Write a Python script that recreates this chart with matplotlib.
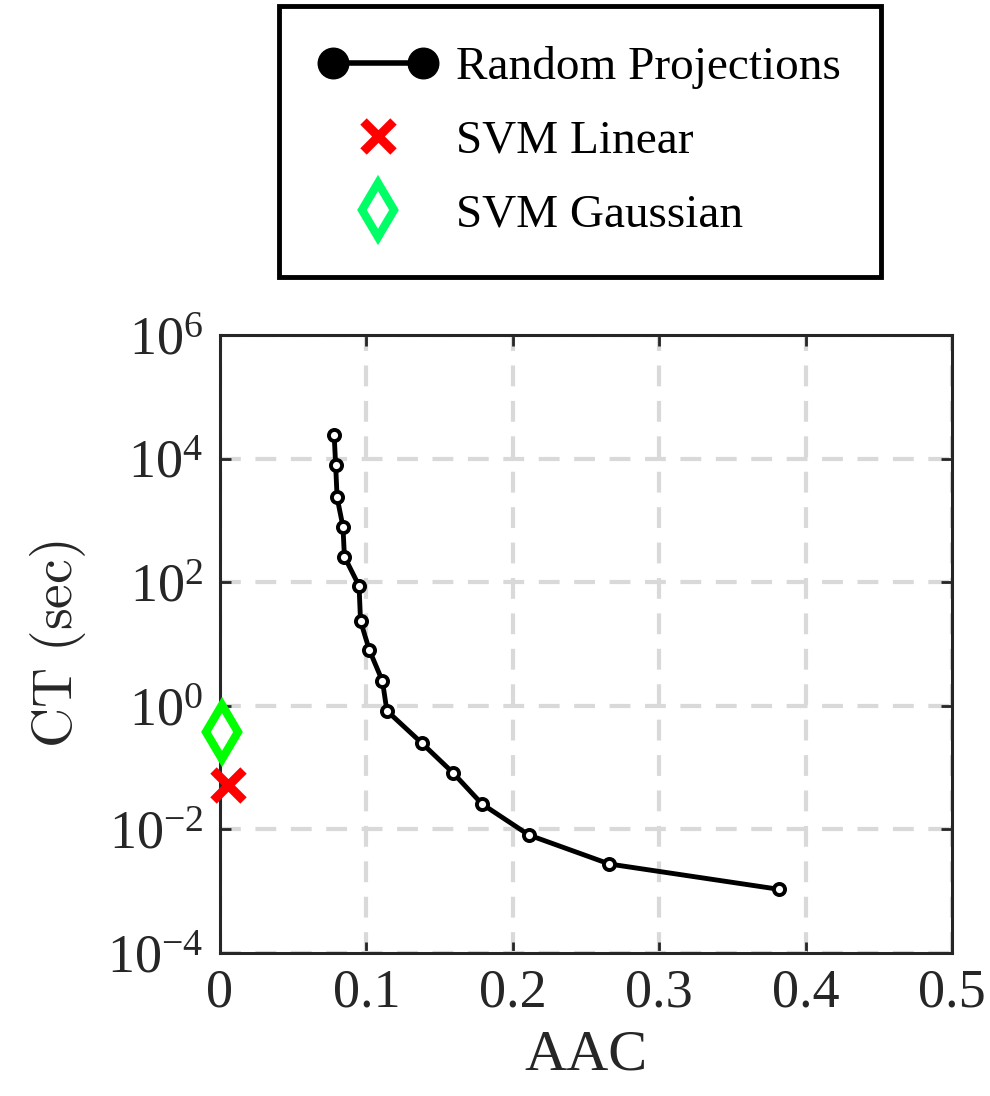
import matplotlib
matplotlib.use('Agg')
from matplotlib import pyplot
from matplotlib.lines import Line2D
from matplotlib.legend_handler import HandlerLine2D

# Random Projections curve (AAC vs CT)
rp_aac = [0.078, 0.079, 0.080, 0.084, 0.085, 0.095, 0.096, 0.102, 0.111, 0.114,
          0.138, 0.159, 0.179, 0.211, 0.266, 0.382]
rp_ct = [2.4e4, 7.9e3, 2.35e3, 790, 258, 87, 23.5, 8.0, 2.5, 0.83,
         0.247, 0.083, 0.0257, 0.0081, 0.00275, 0.00107]

svm_lin_aac = [0.0057]
svm_lin_ct = [0.052]
svm_gauss_aac = [0.0012]
svm_gauss_ct = [0.38]

x_ticks = [0, 0.1, 0.2, 0.3, 0.4, 0.5]
x_labels = ['0', '0.1', '0.2', '0.3', '0.4', '0.5']
y_exps = [-4, -2, 0, 2, 4, 6]

pyplot.rcParams['font.family'] = 'Liberation Serif'
pyplot.rcParams['mathtext.fontset'] = 'cm'

axis_col = '#262626'
fig = pyplot.figure(figsize=(9.9, 10.96), dpi=100)
ax = fig.add_axes([0.2222, 0.1305, 0.7394, 0.5639])

ax.plot(rp_aac, rp_ct, color='black', linewidth=3.5, marker='o', markersize=8,
        markerfacecolor='white', markeredgecolor='black', markeredgewidth=2.8, zorder=5)
ax.plot(svm_lin_aac, svm_lin_ct, linestyle='none', marker='x', markersize=22,
        markeredgewidth=6.5, color='red', zorder=6, clip_on=False)
ax.plot(svm_gauss_aac, svm_gauss_ct, linestyle='none', marker='d', markersize=28,
        markerfacecolor='white', markeredgecolor='#00ff00', markeredgewidth=6, zorder=6,
        clip_on=False)

ax.set_yscale('log')
ax.set_xlim(0, 0.5)
ax.set_ylim(1e-4, 1e6)
ax.set_xticks(x_ticks)
ax.set_xticklabels(x_labels)
ax.set_yticks([10.0 ** e for e in y_exps])
ax.set_yticklabels([r'$\mathregular{10^{%d}}$' % e for e in y_exps])
ax.yaxis.set_minor_locator(matplotlib.ticker.NullLocator())

ax.tick_params(axis='both', which='major', direction='in', length=8, width=2,
               color=axis_col, labelsize=39, labelcolor=axis_col, top=True, right=True)
ax.tick_params(axis='x', pad=11)
ax.tick_params(axis='y', pad=12)
for sp in ax.spines.values():
    sp.set_color(axis_col)
    sp.set_linewidth(2.2)

ax.grid(True, which='major', color='#d9d9d9', linestyle=(0, (5, 3.5)), linewidth=3)
ax.set_axisbelow(True)

ax.set_xlabel('AAC', fontsize=42, color=axis_col, labelpad=8)
ax.set_ylabel(r'$\mathrm{CT\ (sec)}$', fontsize=40, color=axis_col, labelpad=14)

# legend with big handles
handles = [
    Line2D([], [], color='black', linewidth=4, marker='o', markersize=22),
    Line2D([], [], linestyle='none', marker='x', markersize=22, markeredgewidth=6.5, color='red'),
    Line2D([], [], linestyle='none', marker='d', markersize=28, markerfacecolor='white',
           markeredgecolor='#00ff66', markeredgewidth=6),
]
labels = ['Random Projections', 'SVM Linear', 'SVM Gaussian']
hmap = {handles[0]: HandlerLine2D(numpoints=2),
        handles[1]: HandlerLine2D(numpoints=1),
        handles[2]: HandlerLine2D(numpoints=1)}
leg = fig.legend(handles, labels, loc='center', bbox_to_anchor=(0.586, 0.871), fontsize=34,
                 handler_map=hmap, handlelength=2.5, handletextpad=0.4, labelspacing=0.65,
                 borderpad=0.85, borderaxespad=0, fancybox=False, framealpha=1, edgecolor='black')
leg.get_frame().set_linewidth(3.5)

fig.savefig('out.png', dpi=100)
